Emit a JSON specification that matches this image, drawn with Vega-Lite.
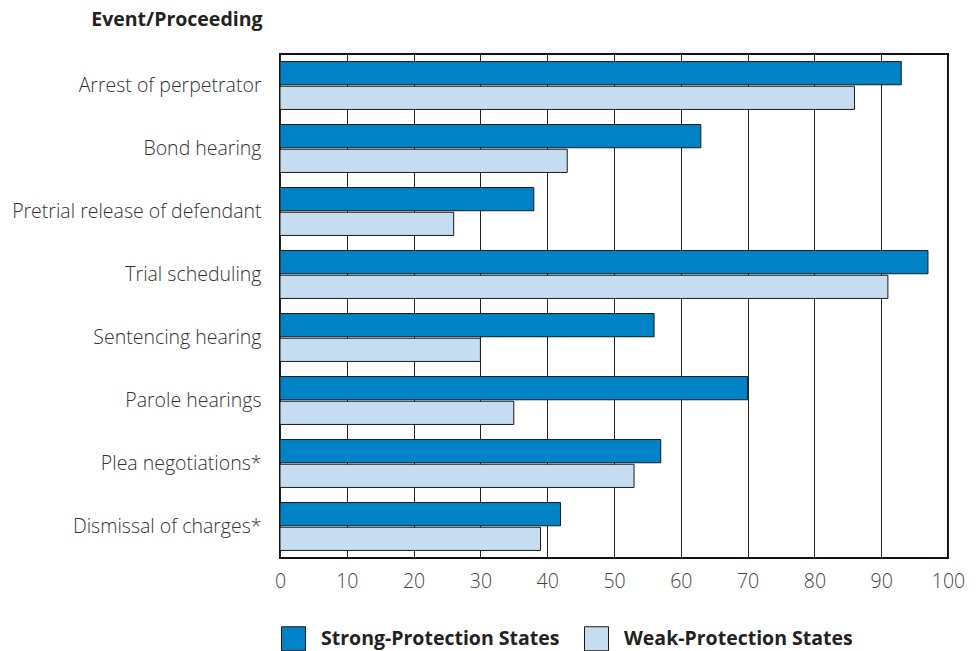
{
  "$schema": "https://vega.github.io/schema/vega-lite/v6.json",
  "width": 668,
  "height": 504,
  "autosize": {"type": "none"},
  "padding": {"left": 280, "top": 54, "right": 32, "bottom": 93},
  "background": "white",
  "config": {
    "view": {"stroke": "#111111", "strokeWidth": 2},
    "font": "Open Sans"
  },
  "data": {
    "values": [
      {"event": "Arrest of perpetrator", "group": "Strong-Protection States", "value": 93},
      {"event": "Arrest of perpetrator", "group": "Weak-Protection States", "value": 86},
      {"event": "Bond hearing", "group": "Strong-Protection States", "value": 63},
      {"event": "Bond hearing", "group": "Weak-Protection States", "value": 43},
      {"event": "Pretrial release of defendant", "group": "Strong-Protection States", "value": 38},
      {"event": "Pretrial release of defendant", "group": "Weak-Protection States", "value": 26},
      {"event": "Trial scheduling", "group": "Strong-Protection States", "value": 97},
      {"event": "Trial scheduling", "group": "Weak-Protection States", "value": 91},
      {"event": "Sentencing hearing", "group": "Strong-Protection States", "value": 56},
      {"event": "Sentencing hearing", "group": "Weak-Protection States", "value": 30},
      {"event": "Parole hearings", "group": "Strong-Protection States", "value": 70},
      {"event": "Parole hearings", "group": "Weak-Protection States", "value": 35},
      {"event": "Plea negotiations*", "group": "Strong-Protection States", "value": 57},
      {"event": "Plea negotiations*", "group": "Weak-Protection States", "value": 53},
      {"event": "Dismissal of charges*", "group": "Strong-Protection States", "value": 42},
      {"event": "Dismissal of charges*", "group": "Weak-Protection States", "value": 39}
    ]
  },
  "mark": {"type": "bar", "stroke": "#1a1a1a", "strokeWidth": 1},
  "encoding": {
    "y": {
      "field": "event",
      "type": "nominal",
      "sort": ["Arrest of perpetrator", "Bond hearing", "Pretrial release of defendant", "Trial scheduling", "Sentencing hearing", "Parole hearings", "Plea negotiations*", "Dismissal of charges*"],
      "scale": {"paddingInner": 0.24, "paddingOuter": 0.12},
      "axis": {
        "title": "Event/Proceeding",
        "titleAngle": 0,
        "titleAlign": "right",
        "titleBaseline": "middle",
        "titleX": -18,
        "titleY": -35,
        "titleFontSize": 19.5,
        "titleFontWeight": "bold",
        "titleColor": "#222222",
        "ticks": false,
        "domain": false,
        "labelPadding": 19,
        "labelFontSize": 19.5,
        "labelFontWeight": 300,
        "labelColor": "#333333",
        "labelLimit": 300
      }
    },
    "yOffset": {
      "field": "group",
      "type": "nominal",
      "scale": {"paddingInner": 0.06}
    },
    "x": {
      "field": "value",
      "type": "quantitative",
      "scale": {"domain": [0, 100], "nice": false},
      "axis": {
        "title": null,
        "values": [0, 10, 20, 30, 40, 50, 60, 70, 80, 90, 100],
        "grid": true,
        "gridColor": "#222222",
        "gridWidth": 1,
        "gridOpacity": 1,
        "ticks": false,
        "domain": false,
        "labelPadding": 14,
        "labelFontSize": 19.5,
        "labelFontWeight": 300,
        "labelColor": "#444444",
        "labelFlush": false
      }
    },
    "color": {
      "field": "group",
      "type": "nominal",
      "scale": {
        "domain": ["Strong-Protection States", "Weak-Protection States"],
        "range": ["#0082C6", "#C6DCF0"]
      },
      "legend": {
        "title": null,
        "orient": "none",
        "legendX": 1,
        "legendY": 572,
        "direction": "horizontal",
        "symbolType": "square",
        "symbolSize": 576,
        "symbolStrokeColor": "#1a1a1a",
        "symbolStrokeWidth": 1,
        "symbolOpacity": 1,
        "labelFontSize": 19.5,
        "labelFontWeight": "bold",
        "labelColor": "#222222",
        "labelOffset": 15,
        "columnPadding": 22,
        "labelLimit": 400
      }
    }
  }
}
